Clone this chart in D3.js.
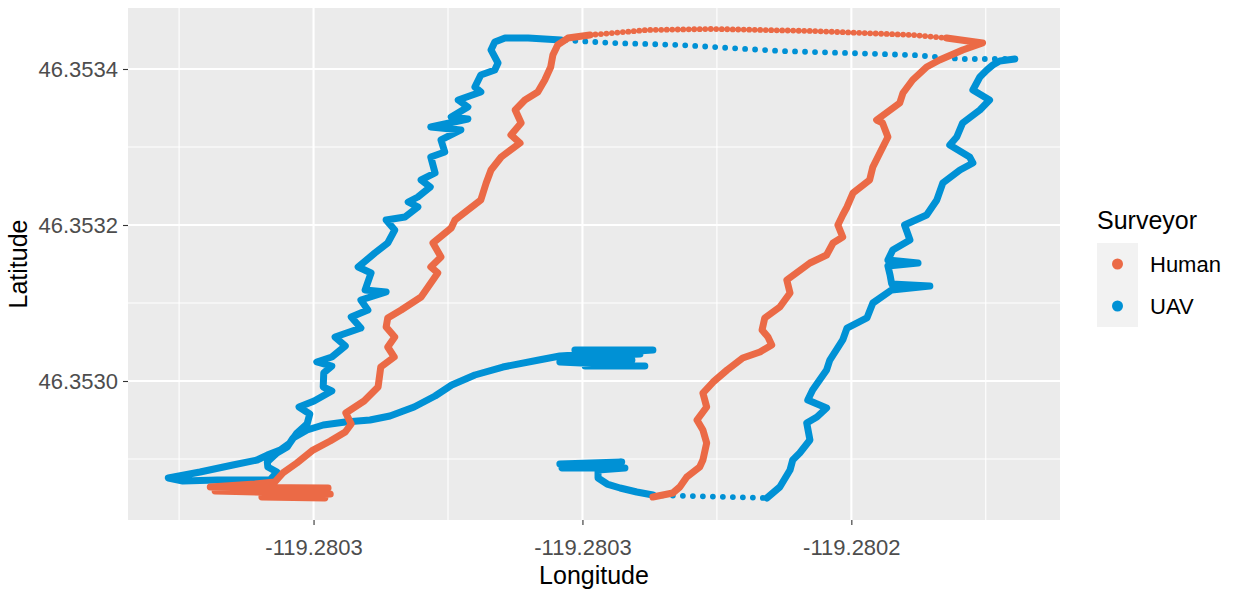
<!DOCTYPE html>
<html>
<head>
<meta charset="utf-8">
<script src="https://cdn.jsdelivr.net/npm/d3@7"></script>
<style>
  body { margin: 0; background: #fff; }
  svg { display: block; }
  text { font-family: "Liberation Sans", Arial, sans-serif; }
</style>
</head>
<body>
<svg id="chart" width="1233" height="592"></svg>
<script>
// GPS fixes recorded by each surveyor (longitude / latitude, decimal degrees)
const humanLon = [
  -119.2802979, -119.2803096, -119.2802969, -119.2803183, -119.2802973, -119.2803192, -119.2803109, -119.2803072, -119.2803057, -119.2803031,
  -119.2803001, -119.2802969, -119.2802941, -119.2802930, -119.2802940, -119.2802906, -119.2802880, -119.2802875, -119.2802850, -119.2802862,
  -119.2802849, -119.2802865, -119.2802862, -119.2802837, -119.2802800, -119.2802769, -119.2802782, -119.2802763, -119.2802778, -119.2802744,
  -119.2802737, -119.2802689, -119.2802679, -119.2802670, -119.2802651, -119.2802616, -119.2802633, -119.2802614, -119.2802625, -119.2802607,
  -119.2802583, -119.2802570, -119.2802559, -119.2802555, -119.2802546, -119.2802527, -119.2802486, -119.2802443, -119.2802380, -119.2802257,
  -119.2802072, -119.2801886, -119.2801823, -119.2801756, -119.2801793, -119.2801836, -119.2801860, -119.2801886, -119.2801904, -119.2801910,
  -119.2801953, -119.2801942, -119.2801932, -119.2801947, -119.2801960, -119.2801966, -119.2801997, -119.2802008, -119.2802016, -119.2802025,
  -119.2802016, -119.2802034, -119.2802046, -119.2802077, -119.2802120, -119.2802114, -119.2802133, -119.2802161, -119.2802166, -119.2802155,
  -119.2802148, -119.2802170, -119.2802202, -119.2802231, -119.2802257, -119.2802276, -119.2802269, -119.2802287, -119.2802276, -119.2802269,
  -119.2802276, -119.2802282, -119.2802306, -119.2802319, -119.2802332, -119.2802369
];
const humanLat = [
  46.3528500, 46.3528513, 46.3528551, 46.3528590, 46.3528628, 46.3528641, 46.3528679, 46.3528705, 46.3528821, 46.3528949,
  46.3529115, 46.3529231, 46.3529346, 46.3529449, 46.3529590, 46.3529744, 46.3529923, 46.3530179, 46.3530308, 46.3530436,
  46.3530564, 46.3530692, 46.3530808, 46.3530910, 46.3531077, 46.3531385, 46.3531462, 46.3531590, 46.3531769, 46.3531962,
  46.3532064, 46.3532321, 46.3532538, 46.3532705, 46.3532872, 46.3533051, 46.3533154, 46.3533308, 46.3533474, 46.3533603,
  46.3533705, 46.3533859, 46.3534026, 46.3534179, 46.3534308, 46.3534397, 46.3534436, 46.3534462, 46.3534500, 46.3534513,
  46.3534487, 46.3534436, 46.3534397, 46.3534333, 46.3534244, 46.3534115, 46.3534026, 46.3533859, 46.3533692, 46.3533564,
  46.3533346, 46.3533308, 46.3533128, 46.3532923, 46.3532744, 46.3532577, 46.3532410, 46.3532231, 46.3532128, 46.3532000,
  46.3531846, 46.3531769, 46.3531615, 46.3531513, 46.3531295, 46.3531128, 46.3530949, 46.3530808, 46.3530654, 46.3530564,
  46.3530462, 46.3530372, 46.3530295, 46.3530141, 46.3529987, 46.3529846, 46.3529667, 46.3529500, 46.3529372, 46.3529205,
  46.3528987, 46.3528897, 46.3528769, 46.3528641, 46.3528564, 46.3528513
];

const uavLon = [
  -119.2802542, -119.2802427, -119.2802538, -119.2802421, -119.2802471, -119.2802471, -119.2802454, -119.2802430, -119.2802399, -119.2802369,
  -119.2802300, -119.2802226, -119.2802157, -119.2802133, -119.2802114, -119.2802109, -119.2802096, -119.2802077, -119.2802083, -119.2802064,
  -119.2802046, -119.2802081, -119.2802072, -119.2802046, -119.2802040, -119.2802016, -119.2802008, -119.2801971, -119.2801960, -119.2801925,
  -119.2801854, -119.2801925, -119.2801928, -119.2801932, -119.2801876, -119.2801932, -119.2801923, -119.2801891, -119.2801901, -119.2801860,
  -119.2801841, -119.2801830, -119.2801798, -119.2801774, -119.2801780, -119.2801817, -119.2801804, -119.2801793, -119.2801761, -119.2801743,
  -119.2801774, -119.2801761, -119.2801748, -119.2801737, -119.2801724, -119.2801696, -119.2801793, -119.2801886, -119.2802008, -119.2802133,
  -119.2802226, -119.2802319, -119.2802443, -119.2802540, -119.2802601, -119.2802644, -119.2802663, -119.2802670, -119.2802657, -119.2802663,
  -119.2802689, -119.2802700, -119.2802689, -119.2802731, -119.2802713, -119.2802744, -119.2802713, -119.2802782, -119.2802726, -119.2802763,
  -119.2802756, -119.2802782, -119.2802774, -119.2802800, -119.2802783, -119.2802806, -119.2802824, -119.2802806, -119.2802830, -119.2802865,
  -119.2802849, -119.2802862, -119.2802886, -119.2802917, -119.2802893, -119.2802904, -119.2802865, -119.2802912, -119.2802899, -119.2802930,
  -119.2802912, -119.2802960, -119.2802941, -119.2802966, -119.2802994, -119.2802966, -119.2802981, -119.2802982, -119.2802966, -119.2802999,
  -119.2803027, -119.2803007, -119.2803012, -119.2803031, -119.2803044, -119.2803062, -119.2803086, -119.2803105, -119.2803150, -119.2803211,
  -119.2803270, -119.2803243, -119.2803179, -119.2803118, -119.2803081, -119.2803068, -119.2803085, -119.2803086, -119.2803068, -119.2803049,
  -119.2803038, -119.2803012, -119.2802982, -119.2802941, -119.2802895, -119.2802858, -119.2802813, -119.2802774, -119.2802743, -119.2802700,
  -119.2802648, -119.2802581, -119.2802542, -119.2802369, -119.2802514, -119.2802393, -119.2802527, -119.2802408, -119.2802542, -119.2802384,
  -119.2802495
];
const uavLat = [
  46.3528936, 46.3528962, 46.3528885, 46.3528885, 46.3528859, 46.3528756, 46.3528679, 46.3528628, 46.3528577, 46.3528538,
  46.3528526, 46.3528513, 46.3528500, 46.3528641, 46.3528859, 46.3528987, 46.3529077, 46.3529244, 46.3529462, 46.3529538,
  46.3529654, 46.3529756, 46.3529885, 46.3530141, 46.3530269, 46.3530526, 46.3530679, 46.3530808, 46.3531000, 46.3531167,
  46.3531218, 46.3531244, 46.3531359, 46.3531474, 46.3531513, 46.3531551, 46.3531679, 46.3531808, 46.3532000, 46.3532128,
  46.3532321, 46.3532538, 46.3532705, 46.3532795, 46.3532872, 46.3533026, 46.3533128, 46.3533308, 46.3533474, 46.3533603,
  46.3533731, 46.3533897, 46.3533987, 46.3534051, 46.3534103, 46.3534128, 46.3534128, 46.3534179, 46.3534205, 46.3534231,
  46.3534269, 46.3534308, 46.3534333, 46.3534372, 46.3534397, 46.3534397, 46.3534346, 46.3534244, 46.3534077, 46.3533987,
  46.3533923, 46.3533769, 46.3533705, 46.3533603, 46.3533513, 46.3533385, 46.3533359, 46.3533256, 46.3533218, 46.3533090,
  46.3532936, 46.3532872, 46.3532667, 46.3532577, 46.3532487, 46.3532359, 46.3532295, 46.3532231, 46.3532103, 46.3532064,
  46.3531936, 46.3531769, 46.3531641, 46.3531462, 46.3531385, 46.3531167, 46.3531141, 46.3531038, 46.3530910, 46.3530821,
  46.3530679, 46.3530564, 46.3530449, 46.3530308, 46.3530244, 46.3530192, 46.3530103, 46.3529923, 46.3529872, 46.3529744,
  46.3529667, 46.3529577, 46.3529449, 46.3529333, 46.3529205, 46.3529115, 46.3529051, 46.3528987, 46.3528923, 46.3528833,
  46.3528756, 46.3528718, 46.3528731, 46.3528731, 46.3528731, 46.3528833, 46.3528897, 46.3528962, 46.3529077, 46.3529154,
  46.3529269, 46.3529372, 46.3529436, 46.3529474, 46.3529500, 46.3529551, 46.3529667, 46.3529808, 46.3529949, 46.3530077,
  46.3530179, 46.3530269, 46.3530321, 46.3530397, 46.3530397, 46.3530346, 46.3530308, 46.3530269, 46.3530244, 46.3530192,
  46.3530192
];

// Index ranges where fixes were logged far apart (fast travel), drawn as separate dots
const humanSparseRuns = [[46, 52]];
const uavSparseRuns = [[9, 12], [55, 63]];

const surveyors = ["Human", "UAV"];
const xTicks = [-119.28030, -119.28025, -119.28020];
const xTickLabels = ["-119.2803", "-119.2803", "-119.2802"];
const xMinor = [-119.280325, -119.280275, -119.280225, -119.280175];
const yTicks = [46.3530, 46.3532, 46.3534];
const yTickLabels = ["46.3530", "46.3532", "46.3534"];
const yMinor = [46.3529, 46.3531, 46.3533];
const lonLimits = [-119.2803345, -119.2801612];
const latLimits = [46.3528218, 46.3534782];

// ---- styling ----
const palette = { Human: "#EB6A46", UAV: "#0091D5" };
const dotSpacing = { Human: 5.5, UAV: 10 };
const panel = { left: 128, right: 1060, top: 8, bottom: 520 };

const svg = d3.select("#chart");
const x = d3.scaleLinear().domain(lonLimits).range([panel.left, panel.right]);
const y = d3.scaleLinear().domain(latLimits).range([panel.bottom, panel.top]);

// panel background + grid
svg.append("rect")
  .attr("x", panel.left).attr("y", panel.top)
  .attr("width", panel.right - panel.left).attr("height", panel.bottom - panel.top)
  .attr("fill", "#EBEBEB");

const grid = svg.append("g");
grid.selectAll(".vminor").data(xMinor).join("line")
  .attr("x1", d => x(d)).attr("x2", d => x(d))
  .attr("y1", panel.top).attr("y2", panel.bottom)
  .attr("stroke", "#fff").attr("stroke-width", 1.1);
grid.selectAll(".hminor").data(yMinor).join("line")
  .attr("y1", d => y(d)).attr("y2", d => y(d))
  .attr("x1", panel.left).attr("x2", panel.right)
  .attr("stroke", "#fff").attr("stroke-width", 1.1);
grid.selectAll(".vmajor").data(xTicks).join("line")
  .attr("x1", d => x(d)).attr("x2", d => x(d))
  .attr("y1", panel.top).attr("y2", panel.bottom)
  .attr("stroke", "#fff").attr("stroke-width", 2.1);
grid.selectAll(".hmajor").data(yTicks).join("line")
  .attr("y1", d => y(d)).attr("y2", d => y(d))
  .attr("x1", panel.left).attr("x2", panel.right)
  .attr("stroke", "#fff").attr("stroke-width", 2.1);

// split a track into continuous stretches and dotted stretches
function stretches(lon, lat, sparseRuns) {
  const pts = lon.map((d, i) => [d, lat[i]]);
  const out = [];
  let start = 0;
  sparseRuns.forEach(([a, b]) => {
    if (a > start) out.push({ pts: pts.slice(start, a + 1), sparse: false });
    out.push({ pts: pts.slice(a, b + 1), sparse: true });
    start = b;
  });
  if (start < pts.length - 1) out.push({ pts: pts.slice(start), sparse: false });
  return out;
}

const line = d3.line().x(d => x(d[0])).y(d => y(d[1]));
const tracks = {
  Human: stretches(humanLon, humanLat, humanSparseRuns),
  UAV: stretches(uavLon, uavLat, uavSparseRuns)
};

const marks = svg.append("g");
["UAV", "Human"].forEach(name => {
  marks.append("g").selectAll("path").data(tracks[name]).join("path")
    .attr("d", d => line(d.pts))
    .attr("fill", "none")
    .attr("stroke", palette[name])
    .attr("stroke-width", d => d.sparse ? 5.8 : 7)
    .attr("stroke-linecap", "round")
    .attr("stroke-linejoin", "round")
    .attr("stroke-dasharray", d => d.sparse ? `0 ${dotSpacing[name]}` : null);
});

// axes
const xAxis = svg.append("g")
  .attr("transform", `translate(0,${panel.bottom})`)
  .call(d3.axisBottom(x).tickValues(xTicks).tickFormat((d, i) => xTickLabels[i]).tickSize(5).tickPadding(14));
const yAxis = svg.append("g")
  .attr("transform", `translate(${panel.left},0)`)
  .call(d3.axisLeft(y).tickValues(yTicks).tickFormat((d, i) => yTickLabels[i]).tickSize(5).tickPadding(5));
[xAxis, yAxis].forEach(g => {
  g.select(".domain").remove();
  g.selectAll(".tick line").attr("stroke", "#333").attr("stroke-width", 1.1);
  g.selectAll(".tick text").attr("fill", "#4D4D4D").style("font-size", "22px")
    .style("font-family", '"Liberation Sans", Arial, sans-serif');
});

svg.append("text")
  .attr("x", (panel.left + panel.right) / 2).attr("y", 584)
  .attr("text-anchor", "middle").attr("font-size", 25).attr("fill", "#000")
  .text("Longitude");
svg.append("text")
  .attr("transform", `translate(27,${(panel.top + panel.bottom) / 2}) rotate(-90)`)
  .attr("text-anchor", "middle").attr("font-size", 25).attr("fill", "#000")
  .text("Latitude");

// legend
const legend = svg.append("g").attr("transform", "translate(1097,0)");
legend.append("text").attr("x", 0).attr("y", 229)
  .attr("font-size", 25).attr("fill", "#000").text("Surveyor");
legend.append("rect").attr("x", 0).attr("y", 243).attr("width", 41).attr("height", 84)
  .attr("fill", "#F2F2F2");
const keys = legend.selectAll(".key").data(surveyors).join("g")
  .attr("transform", (d, i) => `translate(0,${264 + i * 42})`);
keys.append("circle").attr("cx", 20.5).attr("cy", 0).attr("r", 5.5)
  .attr("fill", d => palette[d]);
keys.append("text").attr("x", 53).attr("y", 0).attr("dy", "0.35em")
  .attr("font-size", 22).attr("fill", "#000").text(d => d);
</script>
</body>
</html>
